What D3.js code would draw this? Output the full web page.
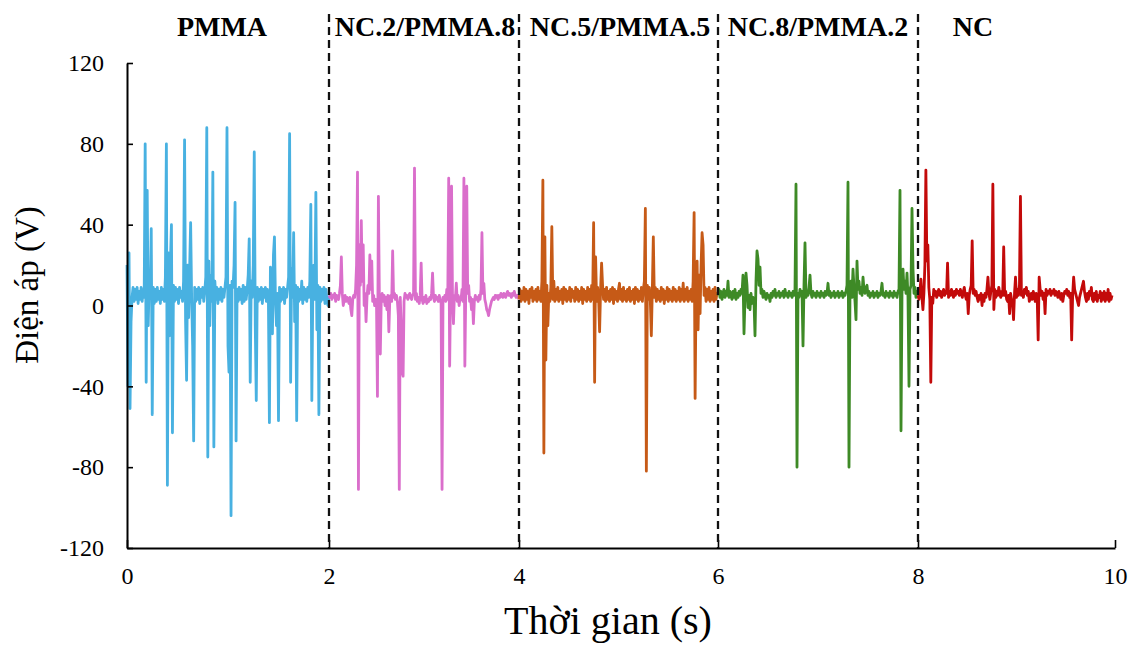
<!DOCTYPE html>
<html>
<head>
<meta charset="utf-8">
<script src="https://cdn.jsdelivr.net/npm/d3@7"></script>
<style>
  body { margin: 0; background: #fff; }
  svg { display: block; font-family: "Liberation Serif", "Times New Roman", serif; }
</style>
</head>
<body>
<div id="chart"></div>
<script>
// sample groups, in order along the time axis
var groups = ["PMMA", "NC.2/PMMA.8", "NC.5/PMMA.5", "NC.8/PMMA.2", "NC"];
var groupStart = [0, 2, 4, 6, 8];   // s
var sampleStep = 0.01;              // s between samples
var xTicks = [0, 2, 4, 6, 8, 10];
var yTicks = [-120, -80, -40, 0, 40, 80, 120];

// voltage (V), one value per sample
var pmma = [
  20,-40,26,-51,-8,4,9,2,8,3, 9,1,7,3,9,2,8,4,80,-38,
  57,-10,12,6,38,-54,9,1,8,2, 9,3,7,1,9,3,8,2,14,80,
  -89,26,-15,22,40,-63,10,2,9,3, 8,1,9,4,7,2,12,82,-8,-37,
  20,-6,18,41,4,-20,-67,9,2,8, 3,9,1,8,4,9,2,7,14,88,
  -75,22,-10,15,2,66,-70,12,3,9, 1,8,3,9,2,8,4,9,14,88,
  -20,-33,10,-104,12,9,20,51,-67,8, 2,9,3,8,1,10,2,9,3,8,
  15,33,-38,12,4,20,76,-10,-47,9, 2,8,3,9,1,8,4,9,2,8,
  3,-58,19,12,-14,25,34,2,-10,6, -57,9,2,8,3,9,1,8,4,9,
  14,85,-38,18,4,36,-8,10,-57,9, 2,8,3,12,1,9,3,8,2,9,
  4,12,50,-47,8,20,3,56,-12,10, -54,9,2,8,3,9,1,8,2,0
];
var nc2pmma8 = [
  5,4,6,3,5,4,6,2,5,4, 3,6,10,24,6,0,3,5,2,4,
  3,1,4,-2,-5,3,5,4,8,20, 66,-91,30,10,42,12,30,0,6,-8,
  4,10,6,25,8,22,2,5,0,3, 1,-45,54,5,-24,3,6,2,5,0,
  4,-2,5,-13,3,5,2,27,4,6, 3,5,2,-5,-91,4,-10,-33,-35,2,
  6,4,5,3,5,6,4,3,5,6, 68,3,6,2,4,1,5,21,3,1,
  4,2,5,1,3,2,4,3,6,16, 4,2,5,3,4,2,5,3,1,-91,
  4,3,5,2,8,3,63,-30,10,59, 4,-9,5,3,11,2,5,0,4,3,
  8,2,63,-30,8,59,6,10,2,4, -2,3,-9,2,5,3,4,2,5,3,
  8,36,6,11,3,1,-2,-3,-5,-2, 0,2,3,4,3,5,4,5,3,5,
  4,6,5,4,6,5,4,6,7,5, 6,5,4,6,5,7,5,4,5,5
];
var nc5pmma5 = [
  3,8,2,7,3,9,2,8,3,7, 1,8,4,9,2,7,3,8,2,9,
  3,7,2,12,62,-73,34,-27,10,-10, 6,2,9,39,3,12,2,8,3,9,
  2,7,3,8,1,9,3,8,2,7, 3,9,2,8,4,7,2,9,3,8,
  2,7,3,9,1,8,3,7,2,9, 3,8,2,10,3,41,-38,24,2,9,
  4,-13,8,21,10,3,8,2,9,3, 7,2,8,3,9,1,8,3,7,2,
  8,11,3,8,2,9,3,7,2,8, 3,9,2,7,3,8,1,9,3,8,
  2,7,3,9,2,8,12,48,-82,10, 3,9,2,-15,8,34,4,9,2,8,
  3,7,2,9,3,8,1,7,3,9, 2,8,3,7,2,9,3,8,2,7,
  3,9,2,8,3,11,2,8,3,9, 2,7,3,8,2,12,46,-46,10,22,
  -12,15,-4,20,36,30,5,9,2,8, 3,9,2,7,3,8,2,9,3,6
];
var nc8pmma2 = [
  5,8,4,7,3,6,8,4,7,5, 12,4,7,5,3,7,4,8,3,6,
  4,7,5,8,6,15,-14,4,16,10, -1,5,-2,6,1,4,2,-15,12,27,
  23,10,19,6,8,4,7,5,3,6, 4,5,2,6,4,7,5,8,4,6,
  5,7,4,6,5,7,4,8,5,6, 4,7,5,6,4,7,5,8,60,-80,
  6,4,8,5,7,-20,10,31,4,7, 5,9,15,6,4,7,5,6,4,7,
  5,6,4,7,5,6,4,7,5,6, 11,5,7,4,6,5,7,4,6,5,
  7,4,6,5,7,4,6,5,7,10, 61,-80,8,12,4,18,9,2,-7,22,
  8,12,6,9,5,14,8,6,9,10, 5,7,4,6,5,7,4,6,5,7,
  4,6,5,7,11,5,6,4,7,5, 6,4,7,5,6,4,7,5,6,4,
  7,8,57,-62,6,18,8,12,6,16, 4,-40,8,10,48,18,6,9,4,7
];
var nc = [
  5,3,8,13,4,-2,6,20,67,22, 30,9,3,-38,4,1,8,5,7,4,
  6,8,5,7,4,6,8,5,7,6, 21,4,7,5,8,6,4,7,5,8,
  6,7,5,8,6,4,7,9,5,3, 6,-4,5,8,10,32,6,8,5,7,
  4,2,5,3,6,0,5,2,6,4, 8,14,6,3,7,10,60,-2,8,4,
  7,5,9,6,4,7,5,29,5,7, 3,2,5,-4,6,3,1,-7,6,14,
  4,8,5,10,54,5,7,4,8,6, 9,5,7,2,4,6,3,7,5,2,
  6,4,-17,14,8,5,7,3,6,-4, 8,5,7,6,8,5,7,6,8,5,
  7,6,4,7,5,3,6,2,5,7, 6,8,5,7,4,6,-17,5,14,8,
  6,4,2,0,4,6,8,10,12,7, 4,2,6,3,7,5,9,3,2,6,
  3,7,2,5,4,7,2,6,3,7, 2,6,3,8,2,6,3,5
];
var series = [pmma, nc2pmma8, nc5pmma5, nc8pmma2, nc];
var colors = ["#48B1E1", "#DA6ECB", "#C65A17", "#3E8A26", "#C30A0A"];

var width = 1142, height = 650;
var svg = d3.select("#chart").append("svg")
    .attr("width", width)
    .attr("height", height);

// the plot boundaries in the source are not evenly spaced, so map each 2 s block
var x = d3.scaleLinear()
    .domain(xTicks)
    .range([127, 329, 519, 718, 918, 1115]);
var y = d3.scaleLinear()
    .domain([-120, 120])
    .range([548, 63]);

var line = d3.line()
    .x(function(d) { return x(d[0]); })
    .y(function(d) { return y(d[1]); });

series.forEach(function(vals, k) {
    var pts = vals.map(function(v, i) {
        return [groupStart[k] + i * sampleStep, v];
    });
    // join onto the first point of the next block
    if (k < series.length - 1) pts.push([groupStart[k + 1], series[k + 1][0]]);
    svg.append("path")
        .datum(pts)
        .attr("fill", "none")
        .attr("stroke", colors[k])
        .attr("stroke-width", 2.8)
        .attr("stroke-linejoin", "round")
        .attr("d", line);
});

// axes
var plain = function(d) { return String(d); };
var yAxis = svg.append("g")
    .attr("transform", "translate(" + x(0) + ",0)")
    .call(d3.axisLeft(y).tickValues(yTicks).tickSizeInner(-6).tickSizeOuter(0).tickPadding(23)
        .tickFormat(plain));
var xAxis = svg.append("g")
    .attr("transform", "translate(0," + y(-120) + ")")
    .call(d3.axisBottom(x).tickValues(xTicks).tickSizeInner(-8).tickSizeOuter(0).tickPadding(19)
        .tickFormat(plain));

[yAxis, xAxis].forEach(function(g) {
    g.attr("font-family", null);
    g.selectAll(".domain").attr("stroke", "#000").attr("stroke-width", 2);
    g.selectAll(".tick line").attr("stroke", "#000").attr("stroke-width", 1.6);
    g.selectAll(".tick text")
        .attr("fill", "#000")
        .style("font-family", "'Liberation Serif', serif")
        .style("font-size", "24px");
});

// block separators
svg.selectAll(".sep")
    .data(groupStart.slice(1))
    .enter().append("line")
    .attr("class", "sep")
    .attr("x1", function(d) { return x(d); })
    .attr("x2", function(d) { return x(d); })
    .attr("y1", 14)
    .attr("y2", y(-120))
    .attr("stroke", "#111")
    .attr("stroke-width", 2.3)
    .attr("stroke-dasharray", "8,5");

// block names
var labelX = [222, 425, 620, 818, 973];
svg.selectAll(".grp")
    .data(groups)
    .enter().append("text")
    .attr("class", "grp")
    .attr("x", function(d, i) { return labelX[i]; })
    .attr("y", 36)
    .attr("text-anchor", "middle")
    .style("font-weight", "bold")
    .style("font-size", "28px")
    .text(function(d) { return d; });

// axis titles
svg.append("text")
    .attr("transform", "translate(38,285) rotate(-90)")
    .attr("text-anchor", "middle")
    .style("font-size", "33px")
    .text("Điện áp (V)");
svg.append("text")
    .attr("x", 608)
    .attr("y", 634)
    .attr("text-anchor", "middle")
    .style("font-size", "40px")
    .text("Thời gian (s)");
</script>
</body>
</html>
